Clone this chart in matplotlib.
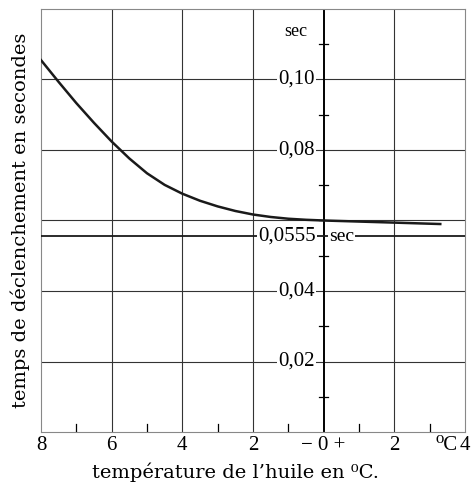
import matplotlib
matplotlib.use("Agg")
import matplotlib.pyplot as plt

# temperature de l'huile (degC) et temps de declenchement (sec)
temperature = [-8, -7.5, -7, -6.5, -6, -5.5, -5, -4.5, -4, -3.5, -3, -2.5,
               -2, -1.5, -1, -0.5, 0, 1, 2, 3.3]
temps = [0.1055, 0.0993, 0.0933, 0.0877, 0.0824, 0.0776, 0.0734, 0.0701,
         0.0676, 0.0656, 0.0640, 0.0627, 0.0617, 0.0610, 0.0605, 0.0602,
         0.0600, 0.0597, 0.0594, 0.0590]
temps_limite = 0.0555

xticks = [-8, -6, -4, -2, 0, 2, 4]
xticklabels = ['8', '6', '4', '2', '\u2212 0 +', '2', '4']
ylabels = [0.02, 0.04, 0.08, 0.10]
ygrid = [0.02, 0.04, 0.06, 0.08, 0.10]
yminor = [0.01, 0.03, 0.05, 0.07, 0.09, 0.11]
xminor = [-7, -5, -3, -1, 1, 3]

plt.rcParams['font.family'] = ['Liberation Serif', 'DejaVu Serif']

fig = plt.figure(figsize=(4.71, 4.84), dpi=100)
ax = fig.add_axes([41 / 471, 52 / 484, 424 / 471, 423 / 484])
ax.set_xlim(-8, 4)
ax.set_ylim(0, 0.12)

for x in xticks[1:-1]:
    if x != 0:
        ax.axvline(x, color='#333333', lw=0.8, zorder=1)
for y in ygrid:
    ax.axhline(y, color='#333333', lw=0.8, zorder=1)
ax.axvline(0, color='black', lw=1.4, zorder=2)

for s in ax.spines.values():
    s.set_color('#888888')
    s.set_linewidth(0.8)

ax.plot(temperature, temps, color='#1a1a1a', lw=1.8, zorder=4)
ax.axhline(temps_limite, color='#1a1a1a', lw=1.3, zorder=3)

# graduations sur l'axe vertical a 0 degC
for y in yminor:
    ax.plot([-0.12, 0.12], [y, y], color='black', lw=0.9, zorder=3)
for y in ylabels:
    ax.text(-0.25, y, ('%.2f' % y).replace('.', ','), ha='right', va='center',
            fontsize=15, zorder=5,
            bbox=dict(facecolor='white', edgecolor='none', pad=1))
ax.plot([-0.12, 0], [0.06, 0.06], color='black', lw=0.9, zorder=3)
ax.text(-0.22, temps_limite, '0,0555', ha='right', va='center', fontsize=15,
        zorder=5, bbox=dict(facecolor='white', edgecolor='none', pad=1))
ax.text(0.15, temps_limite, 'sec', ha='left', va='center', fontsize=14,
        zorder=5, bbox=dict(facecolor='white', edgecolor='none', pad=1))
ax.text(-0.45, 0.1135, 'sec', ha='right', va='center', fontsize=13, zorder=5)

# petites graduations en bas
for x in xminor:
    ax.plot([x, x], [0, 0.0024], color='black', lw=0.9, zorder=3)

ax.set_xticks(xticks)
ax.set_xticklabels(xticklabels, fontsize=15)
ax.set_yticks([])
ax.tick_params(axis='x', length=0, pad=3)
ax.text(3.78, -0.0012, '\u2070C', ha='right', va='top', fontsize=15,
        clip_on=False)

ax.set_xlabel("température de l\u2019huile en \u2070C.", fontsize=14,
              family=['DejaVu Serif'], labelpad=2)
ax.xaxis.set_label_coords((235 - 41) / 424, -0.072)
ax.set_ylabel("temps de déclenchement en secondes", fontsize=14,
              family=['DejaVu Serif'], labelpad=8)

fig.savefig("out.png", dpi=100)
plt.close('all')
